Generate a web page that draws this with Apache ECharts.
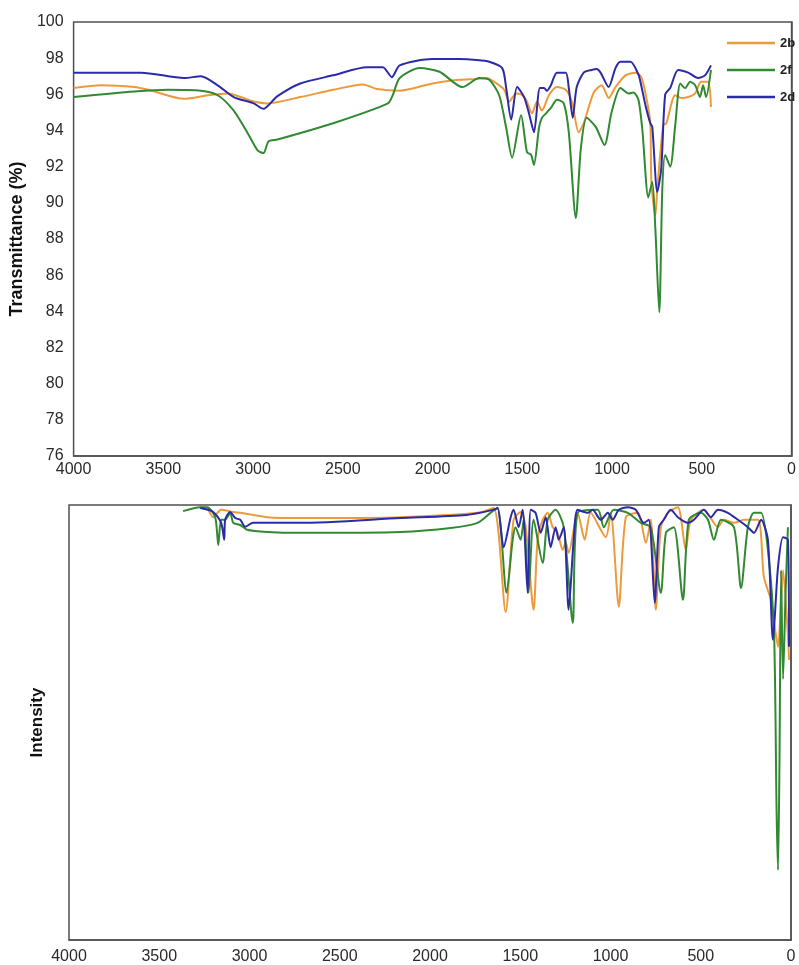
<!DOCTYPE html>
<html>
<head>
<meta charset="utf-8">
<script src="https://cdn.jsdelivr.net/npm/echarts@6/dist/echarts.min.js"></script>
<style>
  html, body { margin: 0; padding: 0; background: #fff; }
  #chart { width: 799px; height: 965px; }
</style>
</head>
<body>
<div id="chart"></div>
<script>
// series names
var names = ['2b', '2f', '2d'];
var colors = ['#EC9A3C', '#318A32', '#2B2BA8'];

// top panel: experimental transmittance (%), [wavenumber, T]
var ir2b = [[4000,96.35],[3845,96.5],[3662,96.4],[3584,96.25],[3385,95.75],[3252,95.95],[3141,96.05],[2997,95.6],[2920,95.5],
  [2737,95.85],[2554,96.25],[2388,96.55],[2310,96.3],[2183,96.2],[2000,96.6],[1850,96.8],[1756,96.85],[1701,96.9],[1629,96.5],
  [1601,96.25],[1573,95.6],[1535,96.05],[1507,96.0],[1479,95.7],[1446,94.95],[1418,95.6],[1391,95.1],[1352,95.95],[1307,96.4],
  [1258,96.25],[1224,95.6],[1186,93.9],[1158,94.4],[1102,96.1],[1058,96.5],[1019,95.8],[981,96.4],[925,97.05],[870,97.2],
  [837,96.95],[809,95.8],[787,94.45],[781,91.15],[759,89.3],[748,90.8],[715,94.3],[698,94.4],[648,95.95],[615,95.8],
  [576,95.85],[537,96.05],[504,96.7],[465,96.7],[449,95.3]];
var ir2f = [[4000,95.85],[3662,96.15],[3474,96.25],[3291,96.2],[3197,95.95],[3108,95.1],[3030,93.85],[2975,92.9],[2942,92.75],
  [2914,93.4],[2864,93.5],[2554,94.4],[2249,95.5],[2222,95.95],[2183,96.9],[2072,97.45],[1961,97.25],[1834,96.4],[1740,96.9],
  [1684,96.8],[1629,95.95],[1590,94.15],[1557,92.5],[1507,94.85],[1474,92.8],[1451,92.65],[1435,92.1],[1407,94.15],[1391,94.7],
  [1368,94.95],[1341,95.25],[1307,95.7],[1269,95.5],[1241,93.9],[1202,89.15],[1174,93.0],[1141,94.7],[1091,94.2],[1042,93.2],
  [1003,95.0],[953,96.35],[909,96.05],[881,96.1],[853,95.7],[831,94.0],[798,90.3],[776,91.15],[759,88.6],[737,83.95],
  [720,90.8],[704,92.65],[676,92.0],[648,94.3],[620,96.6],[593,96.35],[565,96.7],[537,96.5],[510,95.85],[493,96.5],
  [476,95.85],[449,97.35]];
var ir2d = [[4000,97.2],[3623,97.2],[3385,96.9],[3291,97.0],[3197,96.5],[3108,95.85],[2997,95.5],[2942,95.2],[2914,95.4],
  [2864,95.9],[2737,96.6],[2554,97.05],[2366,97.5],[2277,97.5],[2227,96.95],[2183,97.6],[2000,97.95],[1850,97.95],[1756,97.9],
  [1684,97.8],[1612,97.45],[1590,96.35],[1562,94.6],[1529,96.4],[1490,95.85],[1463,94.95],[1435,93.9],[1402,96.35],[1379,96.35],
  [1363,96.2],[1341,96.5],[1307,97.2],[1258,97.2],[1241,96.35],[1219,94.7],[1197,96.4],[1158,97.2],[1114,97.35],[1086,97.4],
  [1064,97.2],[1019,96.4],[981,97.45],[953,97.8],[897,97.8],[853,97.1],[842,96.7],[814,95.4],[787,94.4],[776,94.2],
  [748,90.6],[726,91.9],[704,96.0],[676,96.35],[632,97.35],[576,97.2],[521,96.9],[482,97.05],[449,97.6]];

// bottom panel: computed spectra, relative intensity (100 = baseline at top), [wavenumber, I]
var calc2b = [[3234,99.5],[3201,97.2],[3157,98.9],[3090,98.4],[3051,98.2],[2902,97.2],[2718,97.0],[2164,97.2],[1737,98.2],
  [1648,99.3],[1581,75.4],[1537,96.6],[1498,98.4],[1470,94.9],[1426,75.9],[1404,92.0],[1376,96.6],[1348,98.2],[1320,94.9],
  [1293,93.6],[1265,89.7],[1248,91.3],[1232,89.0],[1182,98.2],[1143,92.0],[1110,98.2],[1026,92.6],[999,98.2],[954,76.6],
  [915,97.2],[849,98.2],[804,91.3],[777,96.6],[749,75.9],[721,94.9],[682,98.2],[627,99.5],[583,89.7],[555,96.6],[483,98.9],
  [405,94.9],[372,96.6],[316,95.9],[261,96.6],[183,96.6],[150,83.4],[111,78.2],[100,75.0],[72,67.4],[44,85.0],[17,70.0],[11,64.4]];
var calc2f = [[3368,98.6],[3273,99.5],[3234,99.5],[3190,97.2],[3173,90.8],[3157,96.6],[3135,96.6],[3107,98.2],[3090,95.9],
  [3051,95.4],[3013,94.3],[2902,93.8],[2718,93.6],[2164,93.8],[1886,94.7],[1737,95.9],[1665,98.2],[1626,99.3],[1576,79.8],
  [1542,92.0],[1526,94.9],[1498,92.0],[1481,96.6],[1454,79.8],[1426,96.6],[1376,86.7],[1348,96.6],[1304,98.9],[1259,94.9],
  [1209,72.9],[1182,98.2],[1071,98.9],[1037,94.9],[982,98.9],[904,98.2],[832,95.9],[777,94.9],[721,79.8],[693,93.6],
  [649,94.9],[599,78.2],[566,96.6],[499,98.2],[460,96.6],[427,92.0],[388,96.6],[316,94.9],[277,80.9],[239,94.9],[205,98.2],
  [166,98.2],[128,89.7],[94,70.6],[80,30.0],[72,16.1],[64,40.0],[55,85.0],[44,60.0],[30,80.0],[17,94.9]];
var calc2d = [[3273,99.3],[3201,98.4],[3157,95.9],[3140,92.0],[3135,96.6],[3107,98.4],[3079,97.0],[3051,96.6],[3024,95.0],
  [2980,95.9],[2718,95.9],[2164,97.0],[1797,97.7],[1648,98.9],[1626,99.3],[1592,90.3],[1553,97.2],[1537,98.9],[1509,94.9],
  [1487,98.9],[1459,79.8],[1442,98.9],[1415,98.2],[1387,93.6],[1359,97.2],[1332,90.3],[1304,94.9],[1287,92.0],[1259,94.9],
  [1232,75.9],[1204,92.0],[1182,98.9],[1126,98.2],[1099,98.9],[1054,96.6],[1015,98.2],[988,96.6],[954,98.9],[904,99.5],
  [860,98.9],[816,95.9],[788,96.6],[755,77.5],[732,94.9],[705,96.6],[666,98.9],[627,97.2],[571,95.9],[538,96.6],[483,98.9],
  [444,97.2],[405,98.9],[350,98.2],[294,96.6],[239,94.9],[205,93.6],[166,96.6],[128,92.0],[100,69.0],[72,85.7],[44,92.6],
  [17,92.0],[11,67.4]];

var chart = echarts.init(document.getElementById('chart'));

var font = 'Liberation Sans, Arial, sans-serif';
var axisText = { color: '#2a2a2a', fontSize: 16, fontFamily: font };
var frame = { show: true, lineStyle: { color: '#505050', width: 1.5 } };

// plain wavenumber labels, no thousands separator
function xLabel(margin) {
  return Object.assign({ margin: margin, formatter: function (v) { return String(v); } }, axisText);
}

function line(name, data, idx, axis) {
  return {
    name: name, type: 'line', data: data, xAxisIndex: axis, yAxisIndex: axis,
    symbol: 'none', smooth: 0.25, color: colors[idx],
    lineStyle: { width: 2, color: colors[idx] }
  };
}

var option = {
  backgroundColor: '#fff',
  animation: false,
  legend: {
    data: names, orient: 'vertical', left: 722, top: 31, icon: 'rect',
    itemWidth: 48, itemHeight: 2.5, itemGap: 13,
    textStyle: { fontWeight: 'bold', fontSize: 13, lineHeight: 14, color: '#222', fontFamily: font }
  },
  grid: [
    { left: 72, top: 22, width: 722, height: 434, show: true, borderColor: '#505050', borderWidth: 1.5 },
    { left: 69, top: 505, width: 722, height: 435, show: true, borderColor: '#505050', borderWidth: 1.5 }
  ],
  xAxis: [
    { type: 'value', gridIndex: 0, min: 0, max: 4000, interval: 500, inverse: true,
      axisLine: frame, axisTick: { show: false }, splitLine: { show: false }, axisLabel: xLabel(6) },
    { type: 'value', gridIndex: 1, min: 0, max: 4000, interval: 500, inverse: true,
      axisLine: frame, axisTick: { show: false }, splitLine: { show: false }, axisLabel: xLabel(9) }
  ],
  yAxis: [
    { type: 'value', gridIndex: 0, min: 76, max: 100, interval: 2,
      name: 'Transmittance (%)', nameLocation: 'middle', nameGap: 43,
      nameTextStyle: { fontWeight: 'bold', fontSize: 18, color: '#111', fontFamily: font },
      axisLine: frame, axisTick: { show: false }, splitLine: { show: false },
      axisLabel: Object.assign({ margin: 10 }, axisText) },
    { type: 'value', gridIndex: 1, min: 0, max: 100,
      name: 'Intensity', nameLocation: 'middle', nameGap: 23,
      nameTextStyle: { fontWeight: 'bold', fontSize: 17, color: '#111', fontFamily: font },
      axisLine: frame, axisTick: { show: false }, splitLine: { show: false },
      axisLabel: { show: false } }
  ],
  series: [
    line('2b', ir2b, 0, 0),
    line('2f', ir2f, 1, 0),
    line('2d', ir2d, 2, 0),
    line('2b', calc2b, 0, 1),
    line('2f', calc2f, 1, 1),
    line('2d', calc2d, 2, 1)
  ]
};

chart.setOption(option);
</script>
</body>
</html>
